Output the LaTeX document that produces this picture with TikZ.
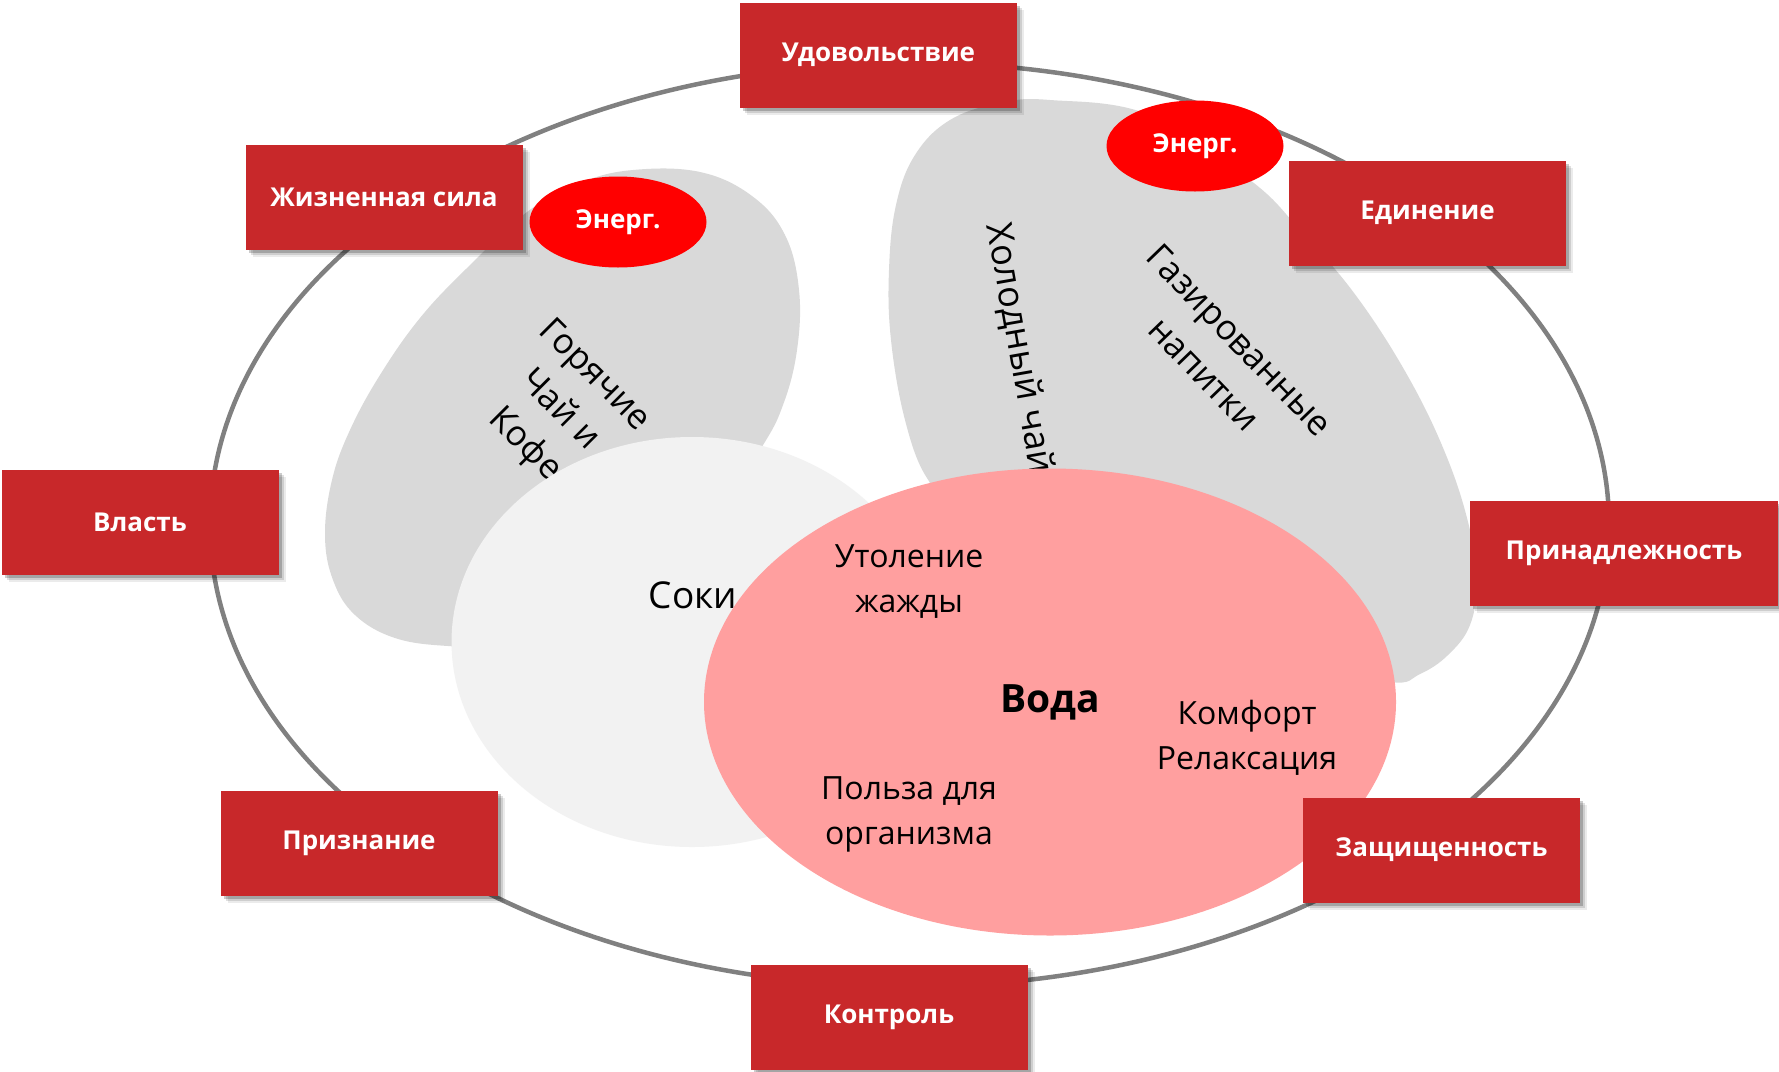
\documentclass[tikz,border=0pt]{standalone}
\usepackage{fontspec}
\setmainfont{Open Sans}
\usetikzlibrary{shapes.geometric,shadows}
\definecolor{boxred}{RGB}{200,40,42}
\definecolor{blobgray}{RGB}{217,217,217}
\definecolor{juicegray}{RGB}{242,242,242}
\definecolor{waterpink}{RGB}{255,159,159}
\definecolor{ringgray}{RGB}{128,128,128}
\begin{document}
\begin{tikzpicture}[x=1pt,y=-1pt,
  lbl/.style={fill=boxred, text=white, font=\fontsize{26}{30}\selectfont\bfseries,
    minimum width=277pt, minimum height=105pt, inner sep=0pt,
    drop shadow={shadow xshift=7pt, shadow yshift=-7pt, opacity=.08, fill=black},
    drop shadow={shadow xshift=5pt, shadow yshift=-5pt, opacity=.12, fill=black},
    drop shadow={shadow xshift=3pt, shadow yshift=-3pt, opacity=.2, fill=black}},
  energ/.style={ellipse, fill=red, text=white, font=\fontsize{26}{30}\selectfont\bfseries,
    minimum width=177pt, minimum height=91pt, inner sep=0pt},
  txt/.style={align=center, inner sep=0pt, font=\fontsize{32}{45}\selectfont},
  rtxt/.style={align=center, inner sep=0pt, font=\fontsize{35}{49}\selectfont},
]
\useasboundingbox (0,0) rectangle (1779,1071);
\fill[white] (0,0) rectangle (1779,1071);

% outer ring
\draw[ringgray, line width=4.5pt] (909.5,524.5) ellipse [x radius=699.5, y radius=462];

% grey blobs
\fill[blobgray] plot[smooth cycle, tension=0.65] coordinates {
  (633,170) (700,172) (752,196) (785,235) (799,290) (797,350) (783,405)
  (760,450) (700,540) (600,610) (500,645) (448,646) (395,638) (355,615)
  (333,580) (325,535) (332,480) (350,430) (380,375) (420,318) (467,268)
  (527,212) (580,183)};
\fill[blobgray] plot[smooth cycle, tension=0.65] coordinates {
  (1050,100) (1150,115) (1250,180) (1300,230) (1357,297) (1410,380)
  (1448,460) (1470,530) (1477,580) (1470,625) (1448,655) (1420,674)
  (1390,682) (1300,660) (1100,560) (960,505) (927,478) (905,420)
  (891,340) (889,270) (896,205) (915,155) (950,120) (1000,103)};

% rotated labels
\node[rtxt, rotate=-45] (hot) at (559,411) {Горячие\\Чай и\\Кофе};
\node[rtxt, rotate=-80, anchor=west, font=\fontsize{36}{49}\selectfont] (cold) at (997,224) {Холодный чай};
\node[rtxt, rotate=-46] (soda) at (1222,357) {Газированные\\напитки};

% juices and water
\node[ellipse, fill=juicegray, minimum width=481pt, minimum height=410pt, inner sep=0pt] (juice) at (692,642) {};
\node[txt, font=\fontsize{37}{45}\selectfont] (juicetxt) at (693,595) {Соки};
\node[ellipse, fill=waterpink, minimum width=692pt, minimum height=467pt, inner sep=0pt,
  font=\fontsize{39}{45}\selectfont\bfseries] (water) at (1050,702) {Вода};
\node[txt] (thirst) at (909,582) {Утоление\\жажды};
\node[txt] (comfort) at (1247,738) {Комфорт\\Релаксация};
\node[txt] (health) at (909,814) {Польза для\\организма};

% energy drinks
\node[energ] (en1) at (618,222) {Энерг.};
\node[energ] (en2) at (1195,146) {Энерг.};

% value boxes
\node[lbl] (b1) at (878.5,55) {Удовольствие};
\node[lbl] (b2) at (384,197) {Жизненная сила};
\node[lbl] (b3) at (1427.5,213) {Единение};
\node[lbl] (b4) at (140,522.5) {Власть};
\node[lbl, minimum width=308pt] (b5) at (1624,553) {Принадлежность};
\node[lbl] (b6) at (359,843.5) {Признание};
\node[lbl] (b7) at (1441.5,850) {Защищенность};
\node[lbl] (b8) at (889,1017) {Контроль};
\end{tikzpicture}
\end{document}
